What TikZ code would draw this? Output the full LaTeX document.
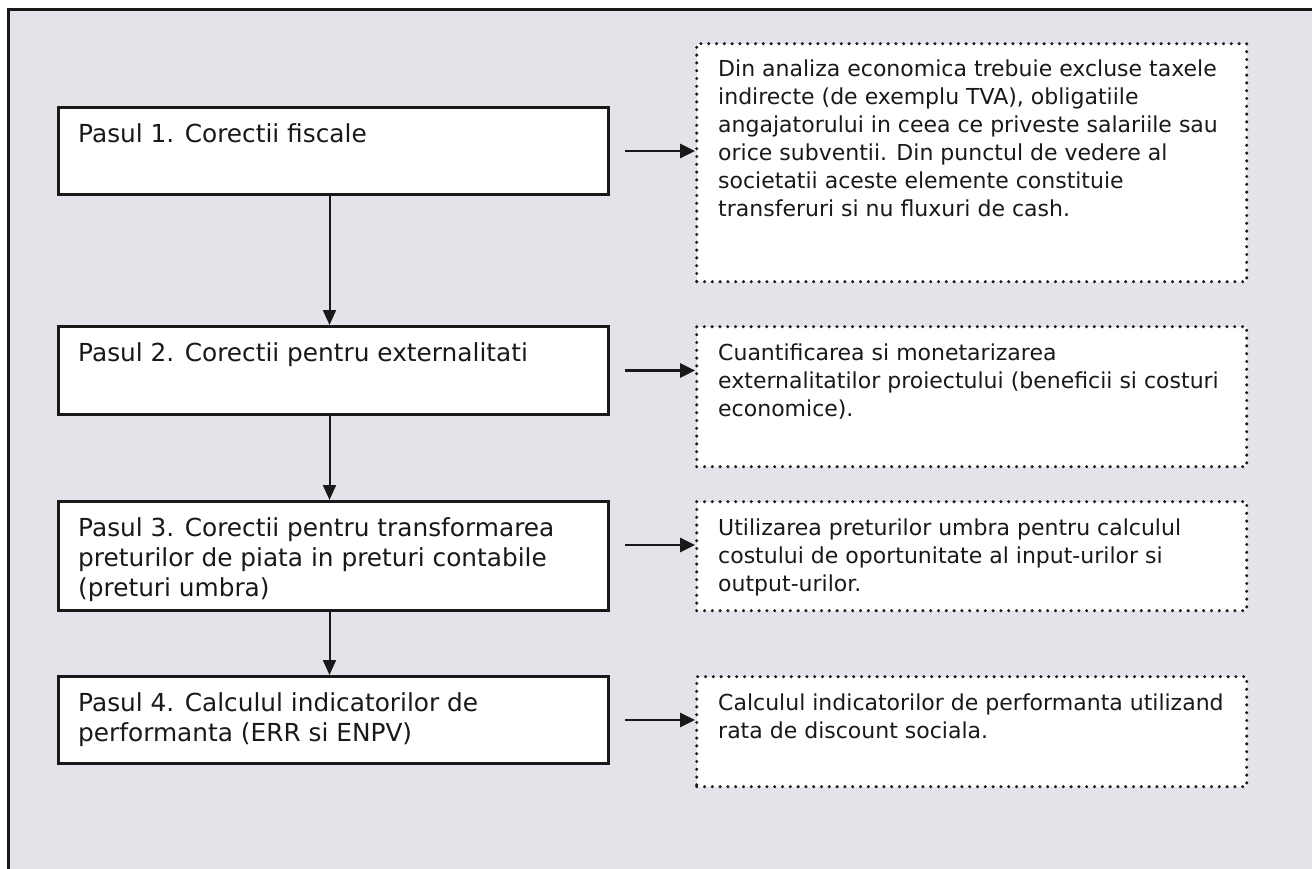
\documentclass[tikz,border=0pt]{standalone}
\usepackage{fontspec}
\setmainfont{DejaVu Sans}
\usetikzlibrary{arrows.meta,calc}
\definecolor{bgc}{RGB}{228,227,233}
\definecolor{ink}{RGB}{25,25,25}
\tikzset{
  stepbox/.style={draw=ink, fill=white, line width=3pt, rectangle, inner sep=0pt, minimum width=550pt, anchor=north west},
  notebox/.style={draw=ink, fill=white, line width=3.4pt, line cap=round, dash pattern=on 0pt off 7.8pt, rectangle, inner sep=0pt, minimum width=550pt, anchor=north west},
  steptext/.style={anchor=north west, inner sep=0pt, align=left, text=ink, font=\fontsize{24.8}{30}\selectfont},
  notetext/.style={anchor=north west, inner sep=0pt, align=left, text=ink, font=\fontsize{22}{28}\selectfont},
  harrow/.style={draw=ink, line width=2.6pt, -{Triangle[length=15pt,width=14pt]}},
  varrow/.style={draw=ink, line width=2pt, -{Triangle[length=15pt,width=13pt]}}
}
\begin{document}
\begin{tikzpicture}[x=1pt,y=-1pt]
\useasboundingbox (0,0) rectangle (1312,869);
\clip (0,0) rectangle (1312,869);
\fill[white] (0,0) rectangle (1312,869);
\draw[draw=ink, fill=bgc, line width=3pt] (8,10) rectangle (1340,900);

% step boxes
\node[stepbox, minimum height=87pt] (b1) at (57,106) {};
\node[stepbox, minimum height=88pt] (b2) at (57,325) {};
\node[stepbox, minimum height=109pt] (b3) at (57,500) {};
\node[stepbox, minimum height=87pt] (b4) at (57,675) {};

% note boxes
\node[notebox, minimum height=238pt] (d1) at (695,42) {};
\node[notebox, minimum height=140pt] (d2) at (695,325) {};
\node[notebox, minimum height=109pt] (d3) at (695,500) {};
\node[notebox, minimum height=110pt] (d4) at (695,675) {};

% step texts
\node[steptext] (t1) at ($(b1.north west)+(21,15)$) {\strut Pasul 1. Corectii fiscale};
\node[steptext] (t2) at ($(b2.north west)+(21,15)$) {\strut Pasul 2. Corectii pentru externalitati};
\node[steptext] (t3) at ($(b3.north west)+(21,15)$) {\strut Pasul 3. Corectii pentru transformarea\\preturilor de piata in preturi contabile\\(preturi umbra)};
\node[steptext] (t4) at ($(b4.north west)+(21,15)$) {\strut Pasul 4. Calculul indicatorilor de\\performanta (ERR si ENPV)};

% note texts
\node[notetext] (n1) at ($(d1.north west)+(23,14.5)$) {\strut Din analiza economica trebuie excluse taxele\\indirecte (de exemplu TVA), obligatiile\\angajatorului in ceea ce priveste salariile sau\\orice subventii. Din punctul de vedere al\\societatii aceste elemente constituie\\transferuri si nu fluxuri de cash.};
\node[notetext] (n2) at ($(d2.north west)+(23,15.5)$) {\strut Cuantificarea si monetarizarea\\externalitatilor proiectului (beneficii si costuri\\economice).};
\node[notetext] (n3) at ($(d3.north west)+(23,15.5)$) {\strut Utilizarea preturilor umbra pentru calculul\\costului de oportunitate al input-urilor si\\output-urilor.};
\node[notetext] (n4) at ($(d4.north west)+(23,15.5)$) {\strut Calculul indicatorilor de performanta utilizand\\rata de discount sociala.};

% horizontal arrows
\draw[harrow] ([xshift=15pt]b1.east) -- (d1.west |- b1.east);
\draw[harrow] ([xshift=15pt]b2.east) -- (d2.west |- b2.east);
\draw[harrow] ([xshift=15pt,yshift=11pt]b3.east) -- ([yshift=11pt]d3.west |- b3.east);
\draw[harrow] ([xshift=15pt]b4.east) -- (d4.west |- b4.east);

% vertical arrows
\draw[varrow] ([xshift=-4pt]b1.south) -- ([xshift=-4pt]b2.north);
\draw[varrow] ([xshift=-4pt]b2.south) -- ([xshift=-4pt]b3.north);
\draw[varrow] ([xshift=-4pt]b3.south) -- ([xshift=-4pt]b4.north);
\end{tikzpicture}
\end{document}
